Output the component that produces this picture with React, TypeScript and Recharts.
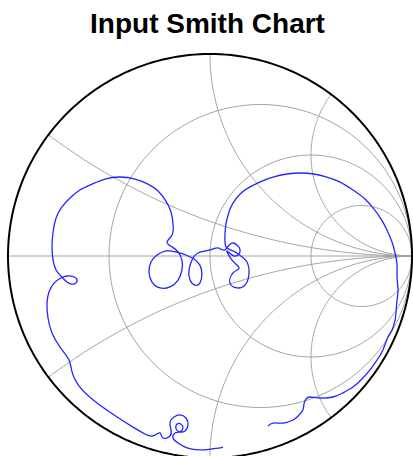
import React from "react";
import { ScatterChart, Scatter, XAxis, YAxis } from "recharts";

// grid values of the chart (normalised impedance)
const resistanceValues = [1 / 3, 1, 3];
const reactanceValues = [1 / 3, 1, 2, -1 / 3, -1, -2];

const traceRe = [
    0.064, 0.05, 0.01, -0.05, -0.114, -0.158, -0.183, -0.173, -0.149, -0.134,
    -0.144, -0.163, -0.168, -0.149, -0.124, -0.109, -0.119, -0.149, -0.178, -0.198,
    -0.193, -0.198, -0.233, -0.248, -0.282, -0.322, -0.381, -0.46, -0.559, -0.644,
    -0.683, -0.698, -0.743, -0.782, -0.802, -0.807, -0.797, -0.772, -0.738, -0.708,
    -0.673, -0.658, -0.678, -0.708, -0.738, -0.762, -0.777, -0.782, -0.777, -0.762,
    -0.733, -0.693, -0.644, -0.584, -0.52, -0.446, -0.371, -0.307, -0.257, -0.218,
    -0.193, -0.183, -0.188, -0.213, -0.188, -0.158, -0.139, -0.139, -0.158, -0.198,
    -0.248, -0.287, -0.302, -0.292, -0.262, -0.218, -0.168, -0.119, -0.079, -0.05,
    -0.04, -0.05, -0.074, -0.099, -0.104, -0.089, -0.059, 0, 0.04, 0.074,
    0.109, 0.149, 0.119, 0.084, 0.109, 0.144, 0.114, 0.099, 0.134, 0.173,
    0.193, 0.183, 0.153, 0.114, 0.079, 0.074, 0.079, 0.094, 0.114, 0.149,
    0.198, 0.257, 0.312, 0.381, 0.446, 0.515, 0.579, 0.644, 0.708, 0.762,
    0.807, 0.847, 0.876, 0.901, 0.916, 0.926, 0.926, 0.931, 0.926, 0.921,
    0.916, 0.901, 0.881, 0.856, 0.827, 0.792, 0.752, 0.708, 0.658, 0.609,
    0.545, 0.495, 0.475, 0.465, 0.46, 0.436, 0.411, 0.361, 0.312, 0.287,
];
const traceIm = [
    -0.946, -0.95, -0.955, -0.96, -0.95, -0.926, -0.901, -0.876, -0.871, -0.851,
    -0.832, -0.832, -0.856, -0.871, -0.866, -0.837, -0.802, -0.787, -0.797, -0.822,
    -0.861, -0.891, -0.901, -0.876, -0.891, -0.881, -0.847, -0.797, -0.728, -0.649,
    -0.574, -0.515, -0.45, -0.381, -0.307, -0.233, -0.178, -0.134, -0.109, -0.099,
    -0.104, -0.124, -0.139, -0.129, -0.099, -0.069, -0.02, 0.045, 0.119, 0.188,
    0.243, 0.287, 0.327, 0.356, 0.381, 0.391, 0.381, 0.356, 0.322, 0.272,
    0.218, 0.158, 0.104, 0.069, 0.045, 0.02, -0.02, -0.069, -0.119, -0.153,
    -0.158, -0.129, -0.079, -0.03, 0.005, 0.025, 0.02, 0.005, -0.015, -0.045,
    -0.089, -0.134, -0.144, -0.119, -0.069, -0.02, 0.015, 0.03, 0.04, 0.03,
    0.064, 0.03, 0, 0.025, -0.02, -0.059, -0.084, -0.134, -0.158, -0.144,
    -0.089, -0.03, 0, 0.025, 0.045, 0.104, 0.158, 0.218, 0.262, 0.307,
    0.342, 0.371, 0.391, 0.406, 0.411, 0.406, 0.391, 0.366, 0.327, 0.287,
    0.238, 0.183, 0.129, 0.069, 0.015, -0.045, -0.104, -0.168, -0.218, -0.277,
    -0.317, -0.366, -0.401, -0.465, -0.515, -0.564, -0.609, -0.649, -0.678, -0.698,
    -0.703, -0.698, -0.708, -0.733, -0.762, -0.792, -0.812, -0.827, -0.827, -0.842,
];

type Pt = { re: number; im: number };

function circle(cx: number, cy: number, rad: number, n = 180): Pt[] {
    const pts: Pt[] = [];
    for (let i = 0; i <= n; i++) {
        const a = (i / n) * Math.PI * 2;
        pts.push({ re: cx + rad * Math.cos(a), im: cy + rad * Math.sin(a) });
    }
    return pts;
}

// constant reactance arc, z = s + jx for s from 0 to infinity
function reactanceArc(x: number, n = 120): Pt[] {
    const pts: Pt[] = [];
    for (let i = 0; i < n; i++) {
        const s = Math.tan((i / n) * (Math.PI / 2));
        const d = (s + 1) * (s + 1) + x * x;
        pts.push({ re: (s * s - 1 + x * x) / d, im: (2 * x) / d });
    }
    pts.push({ re: 1, im: 0 });
    return pts;
}

const trace: Pt[] = traceRe.map((re, i) => ({ re, im: traceIm[i] }));
const rCircles = resistanceValues.map((r) => circle(r / (1 + r), 0, 1 / (1 + r)));
const xArcs = reactanceValues.map((x) => reactanceArc(x));
const realAxis: Pt[] = [
    { re: -1, im: 0 },
    { re: 1, im: 0 },
];
const outer = circle(0, 0, 1, 240);

const W = 413;
const H = 456;
const R = 202; // px per unit
const CX = 210;
const CY = 256;

const noDot = () => <g />;
const gridLine = { stroke: "#a3a3a3", strokeWidth: 1 };

export default function App() {
    return (
        <div style={{ position: "absolute", left: 0, top: 0, width: W, height: H, background: "#fff" }}>
            <ScatterChart width={W} height={H} margin={{ top: 0, right: 0, bottom: 0, left: 0 }}>
                <XAxis
                    type="number"
                    dataKey="re"
                    domain={[-CX / R, (W - CX) / R]}
                    allowDataOverflow
                    hide
                />
                <YAxis
                    type="number"
                    dataKey="im"
                    domain={[(CY - H) / R, CY / R]}
                    allowDataOverflow
                    hide
                />
                <Scatter data={realAxis} line={gridLine} shape={noDot} isAnimationActive={false} />
                {rCircles.map((d, i) => (
                    <Scatter key={"r" + i} data={d} line={gridLine} shape={noDot} isAnimationActive={false} />
                ))}
                {xArcs.map((d, i) => (
                    <Scatter key={"x" + i} data={d} line={gridLine} shape={noDot} isAnimationActive={false} />
                ))}
                <Scatter
                    data={outer}
                    line={{ stroke: "#000", strokeWidth: 2 }}
                    shape={noDot}
                    isAnimationActive={false}
                />
                <Scatter
                    data={trace}
                    line={{ stroke: "#2424ff", strokeWidth: 1.3 }}
                    lineJointType="natural"
                    shape={noDot}
                    isAnimationActive={false}
                />
            </ScatterChart>
            <div
                style={{
                    position: "absolute",
                    left: 1,
                    top: 10,
                    width: W,
                    textAlign: "center",
                    fontFamily: "'Liberation Sans', Arial, Helvetica, sans-serif",
                    fontWeight: "bold",
                    fontSize: 28,
                    lineHeight: "28px",
                    color: "#000",
                }}
            >
                Input Smith Chart
            </div>
        </div>
    );
}
